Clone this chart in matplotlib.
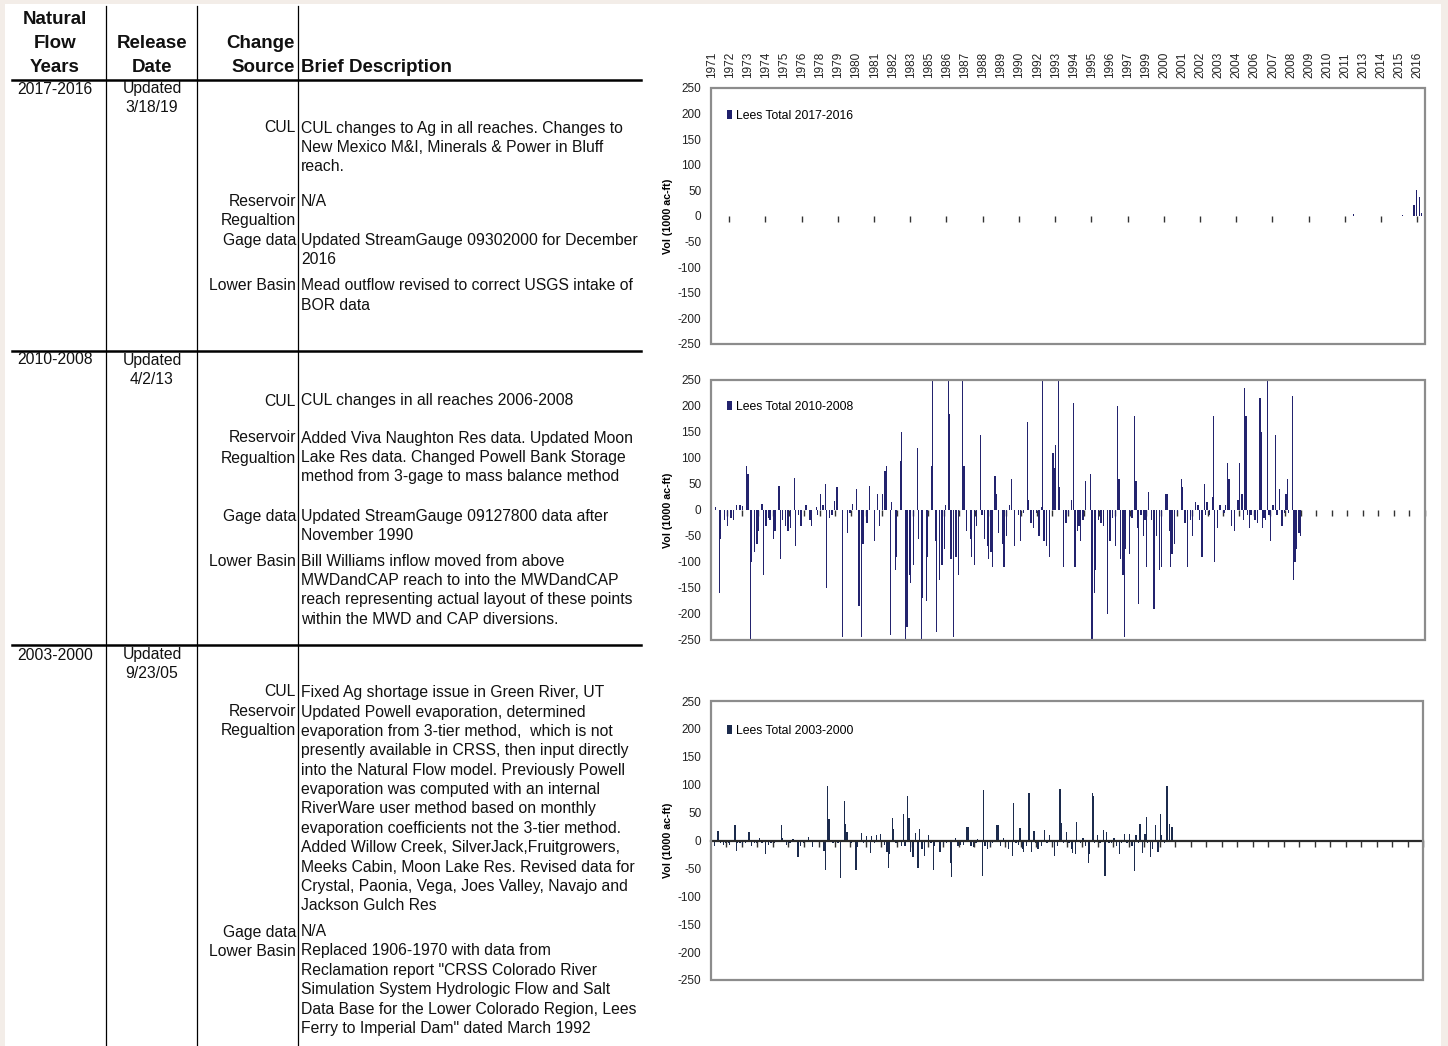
import numpy as np
import matplotlib
matplotlib.use("Agg")
import matplotlib.pyplot as plt
from matplotlib.transforms import Affine2D
from matplotlib.lines import Line2D
from matplotlib.patches import Rectangle

plt.rcParams['font.family'] = ['Liberation Sans', 'DejaVu Sans']
plt.rcParams['axes.unicode_minus'] = False

W, H = 1448, 1046

# ---------------- data ----------------
year_labels = ['1971', '1972', '1973', '1974', '1975', '1976', '1978', '1979', '1980', '1981',
               '1982', '1983', '1985', '1986', '1987', '1988', '1989', '1990', '1992', '1993',
               '1994', '1995', '1996', '1997', '1999', '2000', '2001', '2002', '2003', '2004',
               '2006', '2007', '2008', '2009', '2010', '2011', '2013', '2014', '2015', '2016']
n_months = 552

# chart 1: Lees Total 2017-2016 (month index from Jan 1971, 1000 ac-ft)
c1_month = [496, 534, 543, 545, 547, 549]
c1_value = [3, 2, 21, 51, 37, 5]

# chart 2: Lees Total 2010-2008
c2_month = [3, 6, 7, 10, 12, 15, 17, 19, 22, 24,
            27, 28, 30, 31, 33, 35, 36, 39, 40, 42,
            44, 45, 48, 49, 52, 53, 55, 57, 59, 61,
            64, 65, 67, 69, 73, 76, 77, 81, 82, 84,
            86, 88, 89, 91, 93, 95, 97, 101, 105, 107,
            109, 112, 114, 116, 117, 120, 122, 126, 128, 130,
            132, 134, 135, 138, 139, 142, 143, 146, 147, 150,
            151, 153, 154, 156, 159, 160, 162, 163, 166, 167,
            170, 171, 173, 174, 176, 178, 180, 181, 183, 184,
            185, 187, 189, 191, 194, 195, 197, 200, 201, 203,
            205, 208, 209, 211, 213, 214, 216, 217, 219, 220,
            222, 225, 226, 228, 230, 232, 234, 237, 239, 241,
            244, 245, 247, 249, 251, 253, 255, 256, 257, 259,
            261, 264, 265, 266, 268, 269, 272, 274, 276, 278,
            280, 281, 283, 284, 285, 287, 289, 293, 294, 296,
            297, 299, 301, 303, 306, 308, 310, 312, 314, 315,
            316, 318, 319, 320, 323, 325, 327, 328, 329, 330,
            332, 334, 335, 336, 338, 340, 342, 344, 346, 348,
            351, 352, 354, 355, 356, 358, 360, 363, 364, 366,
            368, 370, 372, 374, 376, 377, 379, 381, 382, 383,
            385, 387, 388, 389, 391, 393, 396, 397, 399, 400,
            402, 404, 407, 408, 410, 411, 412, 413, 414, 416,
            417, 420, 422, 424, 425, 426, 427, 428, 430, 431,
            432, 434, 436, 437, 439, 441, 443, 444, 445, 446,
            449, 450, 451, 452, 454, 455]
c2_value = [5, -160, -55, -20, -30, -15, -20, 10, 10, 8,
            85, 70, -250, -100, -80, -65, -40, 12, -125, -30,
            -15, -20, -55, -40, 47, -95, -20, -30, -40, -35,
            62, -70, -10, -30, 10, -20, -30, 5, -10, 30,
            10, 50, -150, -15, -10, 17, 45, -245, -45, -5,
            12, 40, -185, -245, -65, -25, 47, -60, 30, -30,
            30, 75, 85, -240, 15, -115, -90, 95, 150, -250,
            -225, -125, -140, -105, 120, -55, -250, -170, -175, -90,
            85, 250, -60, -235, -135, -105, -75, 10, 250, 185,
            -95, -245, -90, -125, 250, 85, -40, -55, -90, -105,
            -30, 145, -10, -55, -70, -95, -80, -110, 65, 30,
            -45, -65, -110, -50, 10, 60, -70, -10, -60, -5,
            170, 20, -25, -35, -5, -50, 5, 250, -60, -70,
            -90, 110, 80, 125, 250, 45, -110, -25, -10, 20,
            205, -110, -40, -30, -60, -20, 55, 70, -250, -160,
            -115, -20, -25, -30, -200, -60, -15, -70, 200, 60,
            -95, -125, -245, -75, -85, -15, 180, 55, -35, -180,
            -10, -50, -20, -110, 35, -20, -190, -50, -115, -110,
            30, 30, -40, -110, -85, -65, -5, 60, 45, -25,
            -110, -20, -50, 15, 10, -20, -90, 50, -10, 15,
            -10, 25, 180, -100, -35, 10, -5, 10, 90, 60,
            -30, -40, 20, 90, 30, -20, 235, 180, -10, -35,
            -10, -20, -25, 215, 150, -35, -15, -20, 250, -10,
            -60, 10, 145, -10, 40, -30, -5, 30, 60, -5,
            220, -135, -100, -75, -45, -50]

# chart 3: Lees Total 2003-2000
c3_month = [2, 5, 7, 9, 11, 13, 14, 18, 19, 20,
            22, 24, 26, 29, 31, 33, 35, 37, 39, 42,
            44, 46, 49, 51, 54, 55, 58, 60, 61, 63,
            67, 69, 71, 75, 78, 81, 84, 87, 88, 90,
            91, 94, 98, 100, 103, 104, 105, 108, 112, 113,
            116, 118, 120, 123, 124, 126, 128, 131, 134, 136,
            137, 138, 140, 141, 143, 145, 147, 149, 150, 152,
            153, 154, 156, 158, 160, 161, 163, 165, 168, 170,
            172, 173, 175, 177, 180, 182, 185, 186, 189, 191,
            193, 195, 198, 199, 201, 203, 205, 206, 210, 211,
            212, 214, 216, 218, 221, 222, 224, 226, 228, 230,
            233, 234, 236, 238, 239, 241, 242, 244, 246, 248,
            250, 251, 253, 256, 258, 260, 262, 264, 266, 268,
            270, 271, 273, 275, 277, 279, 280, 282, 283, 286,
            288, 290, 292, 293, 295, 296, 297, 299, 301, 304,
            305, 306, 308, 310, 312, 314, 316, 318, 320, 322,
            324, 326, 328, 329, 331, 332, 334, 336, 337, 338,
            340, 342, 344, 346, 348, 349, 351, 353, 355, 357,
            358]
c3_value = [-10, 17, -5, -8, -5, -5, -8, 27, -18, -5,
            -5, -8, -5, 15, -10, -5, -5, 5, -5, -25,
            -8, -5, -5, -3, 27, 5, -8, -5, -5, 3,
            -30, -10, -5, 6, -12, -3, -2, -18, -53, 97,
            38, -5, -5, -68, 70, 30, 15, -5, -53, -12,
            13, -5, 8, -22, 8, -5, 10, 12, -8, -20,
            -50, -25, 40, 20, -5, -3, -10, 47, -10, 80,
            40, -20, -30, 13, -50, 20, -15, -27, 10, -5,
            -53, -10, -3, -20, -8, -5, -40, -65, 5, -10,
            -8, -8, 25, 25, -10, -12, -5, 3, -63, 90,
            -10, -15, -10, -5, 27, 28, -10, 5, -5, -15,
            -28, 67, -5, -8, 22, -15, -20, -10, 85, -20,
            17, -5, -15, -10, 18, -5, 10, -5, -28, -10,
            92, 32, -5, 15, -5, -15, -22, -25, 33, -5,
            5, -10, -40, -25, 85, 80, -5, 10, -5, 18,
            -63, 15, -5, -5, 5, -10, -25, -5, 12, -5,
            12, -10, -55, 10, -5, 30, -22, 12, 42, -5,
            -30, -15, 27, -20, 47, 10, -5, 98, 30, 25,
            -3]

# ---------------- figure ----------------
fig = plt.figure(figsize=(W / 100, H / 100), dpi=100)
fig.patch.set_facecolor('#f3ede8')
pix = Affine2D().scale(1.0 / W, -1.0 / H).translate(0, 1) + fig.transFigure
fig.add_artist(Rectangle((5, 4), 1436, 1046, transform=pix, facecolor='white',
                         edgecolor='none', zorder=0))

def T(x, y, s, ha='left', size=11.3, bold=False):
    fig.text(x, y, s, transform=pix, ha=ha, va='center', fontsize=size,
             fontweight='bold' if bold else 'normal', color='#111111')

def L(x0, y0, x1, y1, lw=0.9):
    fig.add_artist(Line2D([x0, x1], [y0, y1], transform=pix, color='black', lw=lw))

# table lines
for xv in (106, 197, 298):
    L(xv, 6, xv, 1046, 0.9)
for yv in (80, 351, 645):
    L(12, yv, 641, yv, 1.8)

# header
HS = 13.5
T(55, 20, 'Natural', 'center', HS, True)
T(55, 44, 'Flow', 'center', HS, True)
T(55, 67, 'Years', 'center', HS, True)
T(152, 44, 'Release', 'center', HS, True)
T(152, 67, 'Date', 'center', HS, True)
T(295, 44, 'Change', 'right', HS, True)
T(295, 67, 'Source', 'right', HS, True)
T(301, 67, 'Brief Description', 'left', HS, True)

LS = 19.4
def para(y, lines):
    for i, s in enumerate(lines):
        T(301, y + i * LS, s)

# row 1
T(55, 89, '2017-2016', 'center')
T(152, 89, 'Updated', 'center')
T(152, 108, '3/18/19', 'center')
T(296, 128, 'CUL', 'right')
para(128, ['CUL changes to Ag in all reaches. Changes to',
           'New Mexico M&I, Minerals & Power in Bluff', 'reach.'])
T(296, 201, 'Reservoir', 'right')
T(296, 220, 'Regualtion', 'right')
para(201, ['N/A'])
T(296, 240, 'Gage data', 'right')
para(240, ['Updated StreamGauge 09302000 for December', '2016'])
T(296, 286, 'Lower Basin', 'right')
para(286, ['Mead outflow revised to correct USGS intake of', 'BOR data'])

# row 2
T(55, 360, '2010-2008', 'center')
T(152, 360, 'Updated', 'center')
T(152, 379, '4/2/13', 'center')
T(296, 401, 'CUL', 'right')
para(401, ['CUL changes in all reaches 2006-2008'])
T(296, 438, 'Reservoir', 'right')
T(296, 458, 'Regualtion', 'right')
para(438, ['Added Viva Naughton Res data. Updated Moon',
           'Lake Res data. Changed Powell Bank Storage',
           'method from 3-gage to mass balance method'])
T(296, 516, 'Gage data', 'right')
para(516, ['Updated StreamGauge 09127800 data after', 'November 1990'])
T(296, 561, 'Lower Basin', 'right')
para(561, ['Bill Williams inflow moved from above',
           'MWDandCAP reach to into the MWDandCAP',
           'reach representing actual layout of these points',
           'within the MWD and CAP diversions.'])

# row 3
T(55, 655, '2003-2000', 'center')
T(152, 655, 'Updated', 'center')
T(152, 674, '9/23/05', 'center')
T(296, 692, 'CUL', 'right')
para(692, ['Fixed Ag shortage issue in Green River, UT'])
T(296, 712, 'Reservoir', 'right')
T(296, 731, 'Regualtion', 'right')
para(712, ['Updated Powell evaporation, determined',
           'evaporation from 3-tier method,  which is not',
           'presently available in CRSS, then input directly',
           'into the Natural Flow model. Previously Powell',
           'evaporation was computed with an internal',
           'RiverWare user method based on monthly',
           'evaporation coefficients not the 3-tier method.',
           'Added Willow Creek, SilverJack,Fruitgrowers,',
           'Meeks Cabin, Moon Lake Res. Revised data for',
           'Crystal, Paonia, Vega, Joes Valley, Navajo and',
           'Jackson Gulch Res'])
T(296, 932, 'Gage data', 'right')
para(932, ['N/A'])
T(296, 951, 'Lower Basin', 'right')
para(951, ['Replaced 1906-1970 with data from',
           'Reclamation report "CRSS Colorado River',
           'Simulation System Hydrologic Flow and Salt',
           'Data Base for the Lower Colorado Region, Lees',
           'Ferry to Imperial Dam" dated March 1992'])

# ---------------- charts ----------------
def make_chart(rect_px, months, values, label, color, grid_vals, zero_color,
               tick_start, tick_step, leg_y):
    x0, y0, x1, y1 = rect_px
    ax = fig.add_axes([x0 / W, 1 - y1 / H, (x1 - x0) / W, (y1 - y0) / H])
    ax.set_facecolor('white')
    ax.bar(months, values, width=1.0, color=color, linewidth=0, label=label, zorder=3)
    ax.set_xlim(-0.5, n_months - 0.5)
    ax.set_ylim(-250, 250)
    ax.set_yticks(np.arange(-250, 251, 50))
    ax.set_yticks(grid_vals, minor=True)
    ax.yaxis.grid(True, which='minor', linestyle=(0, (1, 1.2)), color='#7a7a7a', lw=0.9)
    ax.set_axisbelow(True)
    ax.tick_params(axis='y', which='both', length=0, pad=7, labelsize=8.5, colors='#222222')
    for s in ('top', 'left', 'right'):
        ax.spines[s].set_visible(False)
    ax.spines['bottom'].set_position(('data', 0))
    ax.spines['bottom'].set_color(zero_color)
    ax.spines['bottom'].set_linewidth(1.6)
    ax.spines['bottom'].set_zorder(4)
    ax.set_xticks(np.arange(tick_start, n_months, tick_step))
    ax.tick_params(axis='x', direction='out', length=4, width=1.0, color='#333333',
                   labelbottom=False)
    ax.add_patch(Rectangle((0, 0), 1, 1, transform=ax.transAxes, fill=False,
                           edgecolor='#8c8c8c', lw=1.6, clip_on=False, zorder=5))
    ax.set_ylabel('Vol (1000 ac-ft)', fontsize=7.7, fontweight='bold', labelpad=3)
    ax.legend(loc='upper left', bbox_to_anchor=(0.022, leg_y), frameon=False,
              handlelength=0.45, handleheight=0.75, handletextpad=0.3,
              fontsize=8.8, borderaxespad=0, borderpad=0)
    return ax

ax1 = make_chart((711, 88, 1425, 344), c1_month, c1_value, 'Lees Total 2017-2016',
                 '#1f1f6b', [], 'none', 13.5, 28, 0.915)
sec = ax1.secondary_xaxis('top')
sec.set_xticks(np.arange(len(year_labels)) * 14, labels=year_labels)
sec.tick_params(length=0, pad=7, labelsize=8.5, labelrotation=90, colors='#222222')
sec.spines['top'].set_visible(False)

make_chart((711, 380, 1425, 640), c2_month, c2_value, 'Lees Total 2010-2008',
           '#23236e', [-150, -100, -50, 100, 150], 'none', 11.5, 12, 0.92)
make_chart((711, 701, 1423, 980), c3_month, c3_value, 'Lees Total 2003-2000',
           '#1c2b4d', [-200, -150, -100, -50, 50, 100], '#2a2a2a', 11.5, 12, 0.915)

fig.savefig('out.png', dpi=100, facecolor=fig.get_facecolor())
